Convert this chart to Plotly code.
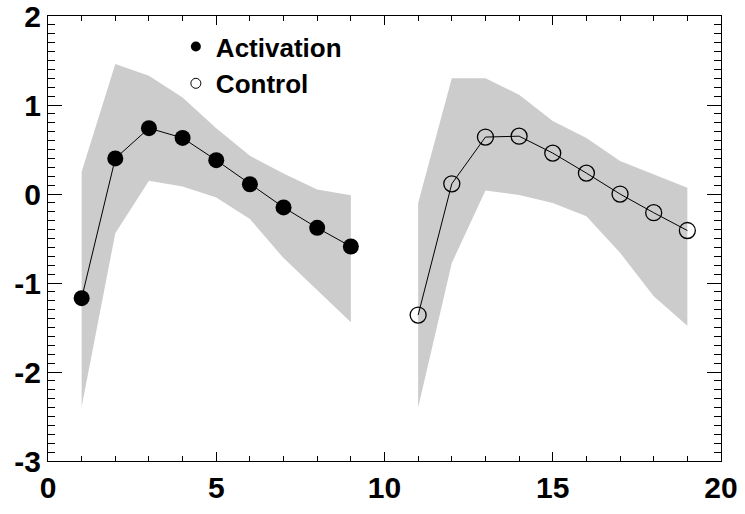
import plotly.graph_objects as go

# Time points for each condition
act_x = [1, 2, 3, 4, 5, 6, 7, 8, 9]
ctl_x = [11, 12, 13, 14, 15, 16, 17, 18, 19]

# Mean response
act_y = [-1.17, 0.40, 0.74, 0.63, 0.38, 0.11, -0.15, -0.38, -0.59]
ctl_y = [-1.36, 0.115, 0.64, 0.65, 0.46, 0.235, 0.0, -0.21, -0.41]

# Shaded range (upper / lower bounds)
act_hi = [0.25, 1.46, 1.33, 1.085, 0.74, 0.43, 0.23, 0.05, -0.015]
act_lo = [-2.39, -0.44, 0.15, 0.085, -0.04, -0.28, -0.72, -1.075, -1.44]
ctl_hi = [-0.10, 1.30, 1.30, 1.115, 0.82, 0.63, 0.37, 0.22, 0.07]
ctl_lo = [-2.40, -0.775, 0.04, -0.01, -0.10, -0.25, -0.66, -1.15, -1.48]

x_ticks = [0, 5, 10, 15, 20]
y_ticks = [-3, -2, -1, 0, 1, 2]
y_tick_text = ["-3", "-2", "-1", "0", "1", "2"]

BAND = "#cccccc"
FONT = "Liberation Sans, Arial, sans-serif"

fig = go.Figure()

for xs, hi, lo in [(act_x, act_hi, act_lo), (ctl_x, ctl_hi, ctl_lo)]:
    fig.add_trace(go.Scatter(x=xs, y=hi, mode="lines", line=dict(width=0),
                             showlegend=False, hoverinfo="skip"))
    fig.add_trace(go.Scatter(x=xs, y=lo, mode="lines", line=dict(width=0),
                             fill="tonexty", fillcolor=BAND,
                             showlegend=False, hoverinfo="skip"))

fig.add_trace(go.Scatter(
    x=act_x, y=act_y, mode="lines+markers", name="Activation",
    line=dict(color="black", width=1),
    marker=dict(symbol="circle", size=16, color="black"),
    showlegend=False))
fig.add_trace(go.Scatter(
    x=ctl_x, y=ctl_y, mode="lines+markers", name="Control",
    line=dict(color="black", width=1),
    marker=dict(symbol="circle-open", size=16, color="black", line=dict(width=1.3)),
    showlegend=False))

# Legend entries with smaller symbols
fig.add_trace(go.Scatter(x=[None], y=[None], mode="markers", name="Activation",
                         marker=dict(symbol="circle", size=10, color="black")))
fig.add_trace(go.Scatter(x=[None], y=[None], mode="markers", name="Control",
                         marker=dict(symbol="circle", size=10, color="white",
                                     line=dict(color="black", width=1))))

axis_common = dict(
    showgrid=False, zeroline=False, showline=True, linecolor="black",
    linewidth=1, mirror="allticks", ticks="inside", tickcolor="black",
    tickwidth=1, automargin=False,
    tickfont=dict(family=FONT, size=30, color="black", weight="bold"),
)

fig.update_xaxes(range=[0, 20], tickvals=x_ticks, ticklen=9,
                 minor=dict(dtick=1, ticks="inside", ticklen=5, tickcolor="black"),
                 **axis_common)
fig.update_yaxes(range=[-3, 2.0005], tickvals=y_ticks, ticktext=y_tick_text,
                 ticklen=14, ticklabeloverflow="allow",
                 minor=dict(dtick=0.1, ticks="inside", ticklen=7, tickcolor="black"),
                 **axis_common)

fig.update_layout(
    width=745, height=514,
    margin=dict(l=48, r=24, t=16, b=53),
    paper_bgcolor="white", plot_bgcolor="white",
    legend=dict(x=0.19, y=0.984, xanchor="left", yanchor="top",
                traceorder="normal",
                bgcolor="rgba(0,0,0,0)",
                font=dict(family=FONT, size=26, color="black", weight="bold"),
                tracegroupgap=0),
)

fig.write_html("out.html")
